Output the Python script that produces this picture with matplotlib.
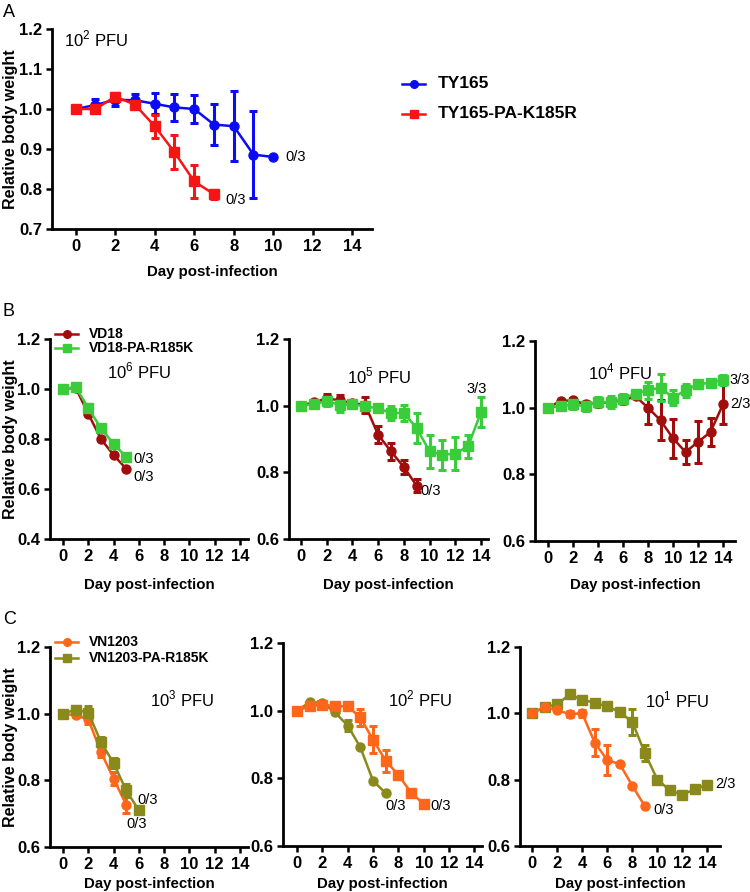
import matplotlib
matplotlib.use("Agg")
import matplotlib.pyplot as plt
from matplotlib.lines import Line2D
import numpy as np

plt.rcParams['font.family'] = ['Liberation Sans', 'DejaVu Sans']
plt.rcParams['mathtext.fontset'] = 'custom'
plt.rcParams['mathtext.rm'] = 'Liberation Sans'

# ---------------- data ----------------
# Panel A (10^2 PFU)
a_ty165_days = list(range(0, 11))
a_ty165_vals = [1.000, 1.010, 1.023, 1.022, 1.013, 1.004, 1.000, 0.961, 0.957, 0.886, 0.880]
a_ty165_err = [0.000, 0.014, 0.016, 0.015, 0.026, 0.033, 0.036, 0.052, 0.087, 0.108, 0.000]
a_k185r_days = list(range(0, 8))
a_k185r_vals = [1.000, 1.000, 1.031, 1.011, 0.957, 0.892, 0.819, 0.787]
a_k185r_err = [0.000, 0.004, 0.008, 0.006, 0.029, 0.042, 0.042, 0.011]

# Panel B1 (10^6 PFU)
b1_vd18_days = list(range(0, 6))
b1_vd18_vals = [1.000, 1.005, 0.901, 0.800, 0.736, 0.681]
b1_vd18_err = [0, 0, 0, 0, 0, 0]
b1_mut_days = list(range(0, 6))
b1_mut_vals = [1.000, 1.008, 0.924, 0.843, 0.781, 0.728]
b1_mut_err = [0, 0, 0, 0, 0, 0]

# Panel B2 (10^5 PFU)
b2_vd18_days = list(range(0, 10))
b2_vd18_vals = [1.000, 1.010, 1.022, 1.016, 1.008, 1.002, 0.913, 0.863, 0.816, 0.760]
b2_vd18_err = [0.000, 0.008, 0.014, 0.015, 0.010, 0.024, 0.025, 0.026, 0.020, 0.020]
b2_mut_days = list(range(0, 15))
b2_mut_vals = [1.000, 1.004, 1.014, 1.002, 1.004, 0.998, 0.992, 0.978, 0.978, 0.933,
               0.863, 0.853, 0.856, 0.878, 0.980]
b2_mut_err = [0.000, 0.006, 0.015, 0.020, 0.010, 0.010, 0.010, 0.020, 0.025, 0.045,
              0.050, 0.045, 0.050, 0.035, 0.045]

# Panel B3 (10^4 PFU)
b3_vd18_days = list(range(0, 15))
b3_vd18_vals = [1.000, 1.020, 1.022, 1.010, 1.014, 1.017, 1.022, 1.034, 1.000, 0.962,
                0.908, 0.867, 0.897, 0.927, 1.010]
b3_vd18_err = [0.000, 0.004, 0.006, 0.006, 0.006, 0.006, 0.008, 0.006, 0.048, 0.060,
               0.058, 0.035, 0.062, 0.043, 0.060]
b3_mut_days = list(range(0, 15))
b3_mut_vals = [1.000, 1.004, 1.010, 1.004, 1.017, 1.017, 1.027, 1.042, 1.052, 1.060,
               1.030, 1.052, 1.070, 1.075, 1.083]
b3_mut_err = [0.000, 0.006, 0.015, 0.015, 0.015, 0.018, 0.015, 0.010, 0.025, 0.040,
              0.022, 0.020, 0.010, 0.008, 0.015]

# Panel C1 (10^3 PFU)
c1_vn_days = list(range(0, 6))
c1_vn_vals = [1.000, 0.995, 0.983, 0.885, 0.805, 0.727]
c1_vn_err = [0.000, 0.006, 0.015, 0.016, 0.020, 0.025]
c1_mut_days = list(range(0, 7))
c1_mut_vals = [1.000, 1.012, 1.003, 0.915, 0.852, 0.770, 0.710]
c1_mut_err = [0.000, 0.010, 0.020, 0.015, 0.015, 0.020, 0.000]

# Panel C2 (10^2 PFU)  (markers as drawn in the original)
c2_mut_days = list(range(0, 8))
c2_mut_vals = [1.000, 1.025, 1.023, 0.995, 0.956, 0.892, 0.793, 0.756]
c2_mut_err = [0.000, 0.000, 0.000, 0.000, 0.016, 0.000, 0.000, 0.000]
c2_vn_days = list(range(0, 11))
c2_vn_vals = [1.000, 1.013, 1.018, 1.013, 1.013, 0.980, 0.914, 0.852, 0.810, 0.758, 0.724]
c2_vn_err = [0.000, 0.006, 0.010, 0.010, 0.005, 0.025, 0.040, 0.033, 0.000, 0.000, 0.000]

# Panel C3 (10^1 PFU)
c3_mut_days = list(range(0, 15))
c3_mut_vals = [1.000, 1.019, 1.027, 1.057, 1.041, 1.032, 1.021, 1.004, 0.974, 0.881,
               0.800, 0.768, 0.754, 0.772, 0.785]
c3_mut_err = [0.000, 0.004, 0.004, 0.010, 0.010, 0.005, 0.006, 0.004, 0.040, 0.025,
              0.000, 0.000, 0.000, 0.000, 0.000]
c3_vn_days = list(range(0, 10))
c3_vn_vals = [1.000, 1.019, 1.009, 0.998, 1.000, 0.912, 0.859, 0.847, 0.782, 0.720]
c3_vn_err = [0.000, 0.000, 0.000, 0.010, 0.010, 0.040, 0.045, 0.000, 0.000, 0.000]

# ---------------- styles ----------------
BLUE = '#0b0bf5'
RED = '#f51515'
DARKRED = '#a00d0d'
GREEN = '#3acc3a'
ORANGE = '#ff661a'
OLIVE = '#8a8a1c'

W, H = 750, 892
fig = plt.figure(figsize=(W / 100, H / 100), dpi=100)


def make_axes(left, right, top, bottom):
    ax = fig.add_axes([left / W, 1 - bottom / H, (right - left) / W, (bottom - top) / H])
    ax._px = (left, right, top, bottom)
    return ax


def style(ax, xlim, ylim, yticks, xlabel_y):
    ax.set_xlim(*xlim)
    ax.set_ylim(*ylim)
    ax.set_xticks(range(0, 15, 2))
    ax.set_yticks(yticks)
    ax.set_yticklabels([f'{t:.1f}' for t in yticks])
    for s in ['top', 'right']:
        ax.spines[s].set_visible(False)
    for s in ['left', 'bottom']:
        ax.spines[s].set_linewidth(2.0)
        ax.spines[s].set_color('black')
    ax.tick_params(direction='out', length=4.5, width=1.8, labelsize=12, pad=2.5)
    for lab in ax.get_xticklabels() + ax.get_yticklabels():
        lab.set_fontweight('bold')
    left, right, top, bottom = ax._px
    ax.set_xlabel('Day post-infection', fontsize=10.8, fontweight='bold')
    ax.xaxis.set_label_coords(0.5, -(xlabel_y - bottom) / (bottom - top))
    ax.xaxis.label.set_va('center')


def ylabel(ax):
    left, right, top, bottom = ax._px
    ax.set_ylabel('Relative body weight', fontsize=11.5, fontweight='bold')
    ax.yaxis.set_label_coords(-(left - 11) / (right - left), 0.5)
    ax.yaxis.label.set_va('center')


def series(ax, x, y, e, color, marker, ms=6.5):
    ax.errorbar(x, y, yerr=e, color=color, marker=marker, ms=ms, lw=1.8,
                elinewidth=2.2, capsize=3.2, capthick=2.2, clip_on=False, zorder=3)


def manual_legend(entries, x0, x1, xt, ys, size):
    for (color, marker, label), y in zip(entries, ys):
        fig.add_artist(Line2D([x0 / W, x1 / W], [1 - y / H, 1 - y / H], color=color, lw=1.8))
        fig.add_artist(Line2D([(x0 + x1) / 2 / W], [1 - y / H], color=color, marker=marker,
                              ms=5.5, lw=0))
        fig.text(xt / W, 1 - y / H, label, fontsize=size, fontweight='bold',
                 va='center', ha='left')


LBL = 10.5
PFU = 12

# Panel A
axA = make_axes(52, 372, 29, 229)
series(axA, a_ty165_days, a_ty165_vals, a_ty165_err, BLUE, 'o')
series(axA, a_k185r_days, a_k185r_vals, a_k185r_err, RED, 's')
style(axA, (-1.2, 15.0), (0.7, 1.2), [0.7, 0.8, 0.9, 1.0, 1.1, 1.2], 272)
ylabel(axA)
axA.text(-0.6, 1.175, r'10$^{\mathregular{2}}$ PFU', fontsize=PFU, va='center', ha='left')
axA.text(10.6, 0.88, '0/3', fontsize=LBL, va='center')
axA.text(7.6, 0.772, '0/3', fontsize=LBL, va='center')
manual_legend([(BLUE, 'o', 'TY165'), (RED, 's', 'TY165-PA-K185R')],
              402, 425, 438, [84, 114], 12.5)

# Panel B1
axB1 = make_axes(50, 248, 339, 539)
series(axB1, b1_vd18_days, b1_vd18_vals, b1_vd18_err, DARKRED, 'o')
series(axB1, b1_mut_days, b1_mut_vals, b1_mut_err, GREEN, 's')
style(axB1, (-1.03, 14.64), (0.4, 1.2), [0.4, 0.6, 0.8, 1.0, 1.2], 585)
ylabel(axB1)
axB1.text(6.0, 1.07, r'10$^{\mathregular{6}}$ PFU', fontsize=PFU, va='center', ha='center')
axB1.text(5.55, 0.72, '0/3', fontsize=LBL, va='center')
axB1.text(5.55, 0.648, '0/3', fontsize=LBL, va='center')
manual_legend([(DARKRED, 'o', 'VD18'), (GREEN, 's', 'VD18-PA-R185K')],
              55, 78, 89, [334, 348], 10)

# Panel B2
axB2 = make_axes(289, 488, 339, 539)
series(axB2, b2_vd18_days, b2_vd18_vals, b2_vd18_err, DARKRED, 'o')
series(axB2, b2_mut_days, b2_mut_vals, b2_mut_err, GREEN, 's')
style(axB2, (-0.93, 14.55), (0.6, 1.2), [0.6, 0.8, 1.0, 1.2], 585)
axB2.text(6.1, 1.09, r'10$^{\mathregular{5}}$ PFU', fontsize=PFU, va='center', ha='center')
axB2.text(12.9, 1.05, '3/3', fontsize=LBL, va='center')
axB2.text(9.3, 0.745, '0/3', fontsize=LBL, va='center')

# Panel B3
axB3 = make_axes(535, 735, 341, 541)
series(axB3, b3_vd18_days, b3_vd18_vals, b3_vd18_err, DARKRED, 'o')
series(axB3, b3_mut_days, b3_mut_vals, b3_mut_err, GREEN, 's')
style(axB3, (-1.04, 14.96), (0.6, 1.2), [0.6, 0.8, 1.0, 1.2], 585)
axB3.text(5.8, 1.107, r'10$^{\mathregular{4}}$ PFU', fontsize=PFU, va='center', ha='center')
axB3.text(14.55, 1.083, '3/3', fontsize=LBL, va='center', clip_on=False)
axB3.text(14.55, 1.012, '2/3', fontsize=LBL, va='center', clip_on=False)

# Panel C1
axC1 = make_axes(50, 248, 647, 847)
series(axC1, c1_vn_days, c1_vn_vals, c1_vn_err, ORANGE, 'o')
series(axC1, c1_mut_days, c1_mut_vals, c1_mut_err, OLIVE, 's')
style(axC1, (-1.03, 14.64), (0.6, 1.2), [0.6, 0.8, 1.0, 1.2], 884)
ylabel(axC1)
axC1.text(9.4, 1.045, r'10$^{\mathregular{3}}$ PFU', fontsize=PFU, va='center', ha='center')
axC1.text(5.9, 0.74, '0/3', fontsize=LBL, va='center')
axC1.text(5.0, 0.668, '0/3', fontsize=LBL, va='center')
manual_legend([(ORANGE, 'o', 'VN1203'), (OLIVE, 's', 'VN1203-PA-R185K')],
              55, 78, 89, [642, 658], 10)

# Panel C2
axC2 = make_axes(283, 482, 643, 846)
series(axC2, c2_mut_days, c2_mut_vals, c2_mut_err, OLIVE, 'o')
series(axC2, c2_vn_days, c2_vn_vals, c2_vn_err, ORANGE, 's')
style(axC2, (-1.1, 14.6), (0.6, 1.2), [0.6, 0.8, 1.0, 1.2], 884)
axC2.text(9.7, 1.033, r'10$^{\mathregular{2}}$ PFU', fontsize=PFU, va='center', ha='center')
axC2.text(7.0, 0.717, '0/3', fontsize=LBL, va='center')
axC2.text(10.5, 0.717, '0/3', fontsize=LBL, va='center')

# Panel C3
axC3 = make_axes(520, 720, 647, 846)
series(axC3, c3_mut_days, c3_mut_vals, c3_mut_err, OLIVE, 's')
series(axC3, c3_vn_days, c3_vn_vals, c3_vn_err, ORANGE, 'o')
style(axC3, (-0.96, 15.0), (0.6, 1.2), [0.6, 0.8, 1.0, 1.2], 884)
axC3.text(11.6, 1.04, r'10$^{\mathregular{1}}$ PFU', fontsize=PFU, va='center', ha='center')
axC3.text(14.6, 0.788, '2/3', fontsize=LBL, va='center', clip_on=False)
axC3.text(9.7, 0.708, '0/3', fontsize=LBL, va='center')

# Panel letters
fig.text(3 / W, 1 - 4 / H, 'A', fontsize=13, va='top', ha='left')
fig.text(3 / W, 1 - 303 / H, 'B', fontsize=13, va='top', ha='left')
fig.text(3 / W, 1 - 611 / H, 'C', fontsize=13, va='top', ha='left')

fig.savefig('out.png', dpi=100)
